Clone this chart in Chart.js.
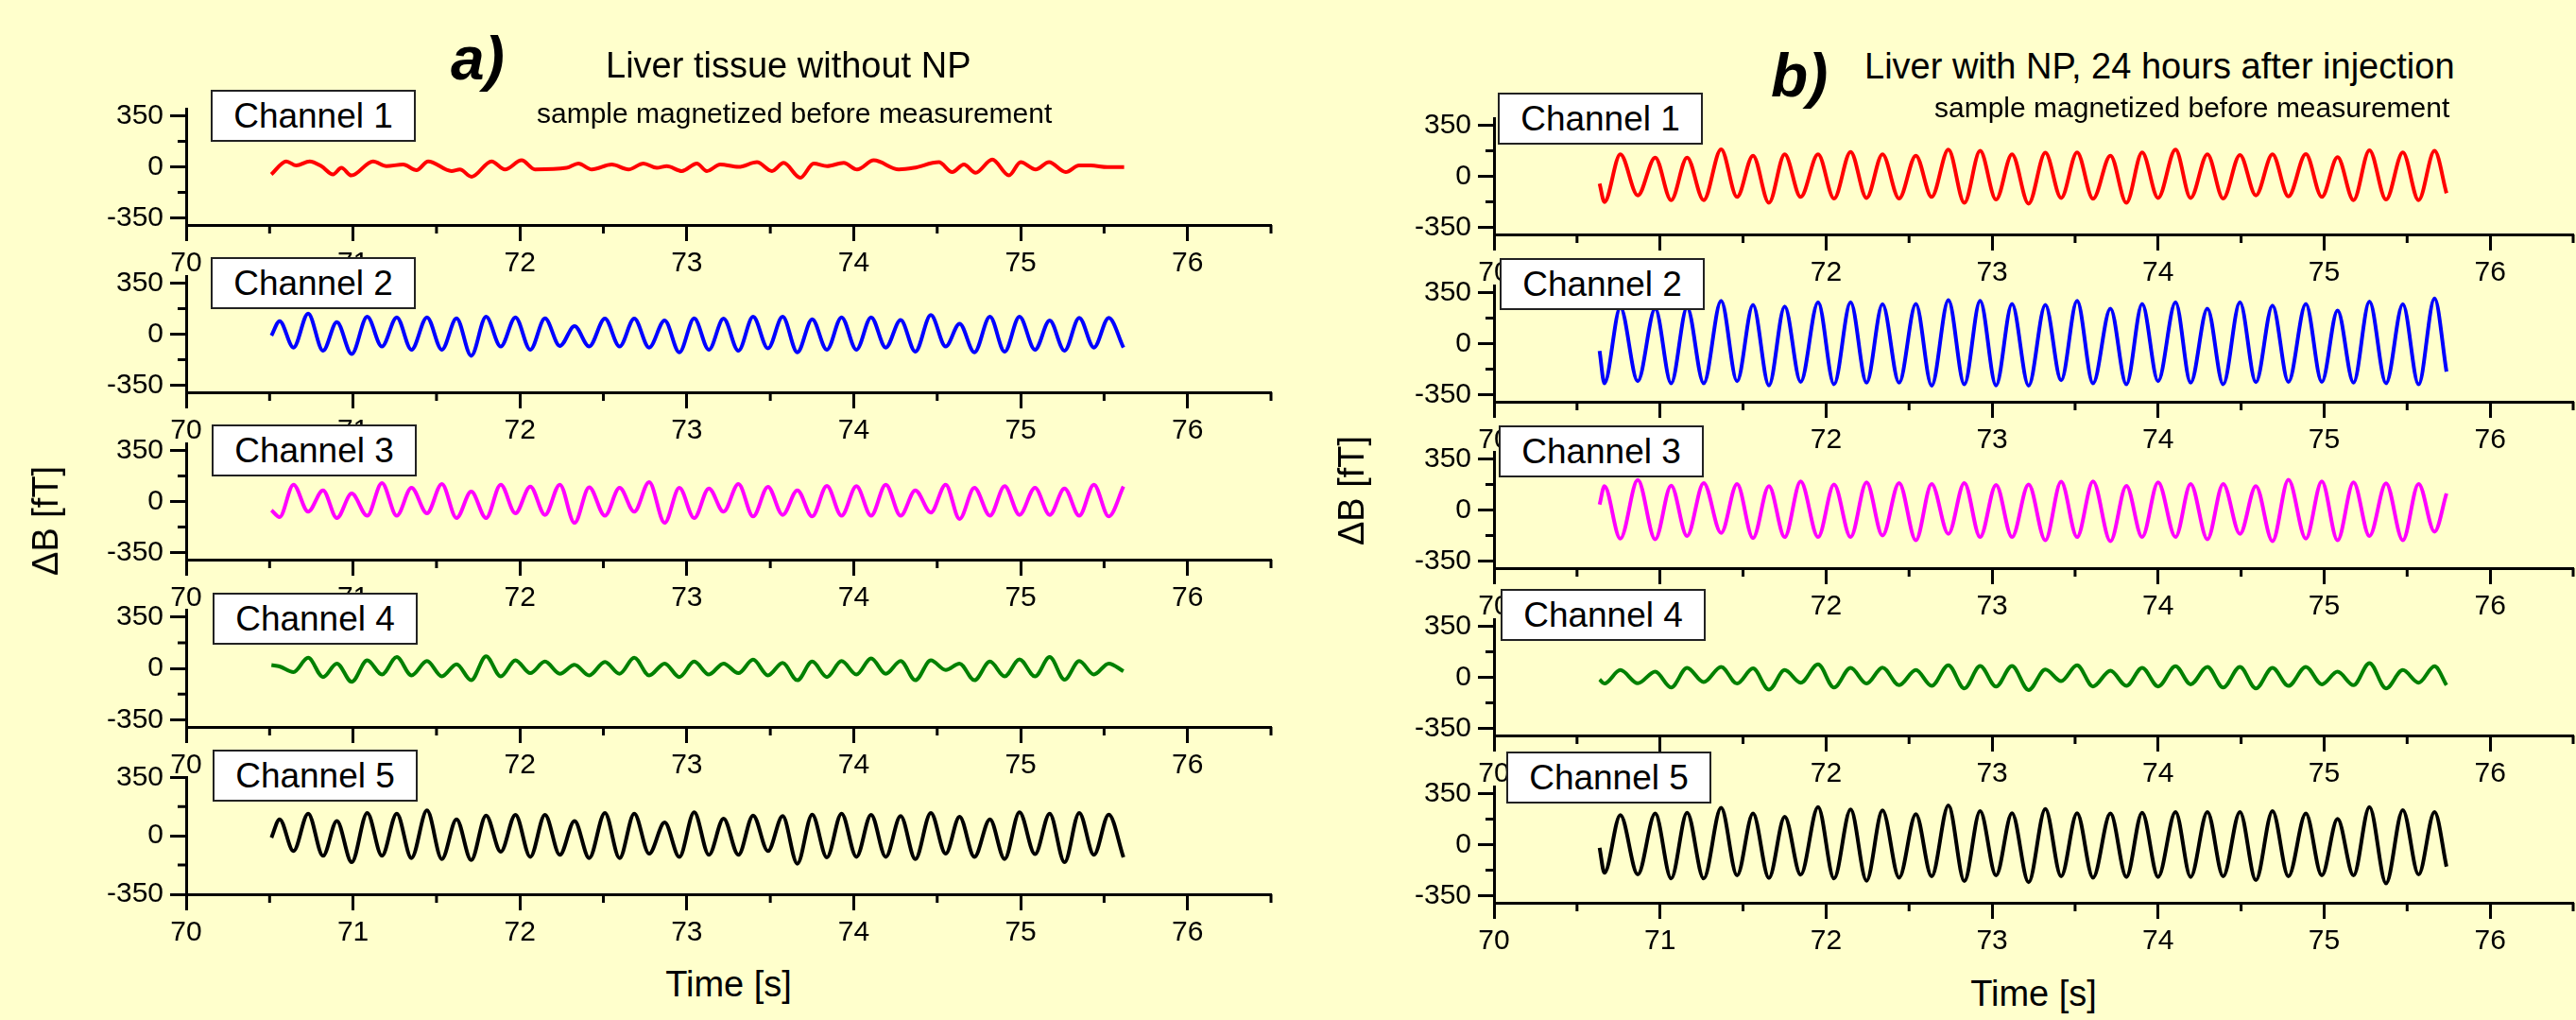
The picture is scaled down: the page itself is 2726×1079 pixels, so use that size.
<!DOCTYPE html>
<html>
<head>
<meta charset="utf-8">
<script src="https://cdn.jsdelivr.net/npm/chart.js@4.4.0/dist/chart.umd.min.js"></script>
<style>
html, body { margin: 0; padding: 0; background: #ffffcc; overflow: hidden; }
#wrap { position: relative; width: 2726px; height: 1079px; background: #ffffcc;
        font-family: "Liberation Sans", Arial, sans-serif; color: #000; }
canvas { position: absolute; }
.txt { position: absolute; white-space: nowrap; line-height: 1; }
.box { position: absolute; box-sizing: border-box; width: 217px; height: 55px; background: #fff;
       border: 2px solid #222; font-size: 37px; line-height: 1; z-index: 5;
       display: flex; align-items: center; justify-content: center; }
.ytitle { position: absolute; white-space: nowrap; line-height: 1; font-size: 38px;
          transform: translate(-50%, -50%) rotate(-90deg); }
</style>
</head>
<body>
<div id="wrap"></div>
<script>
// ---- data ----

const xTicks = [70, 71, 72, 73, 74, 75, 76];
const xMinor = [70.5, 71.5, 72.5, 73.5, 74.5, 75.5, 76.5];
const yTicks = [-350, 0, 350];
const yMinor = [-175, 175];
const channelNames = ['Channel 1', 'Channel 2', 'Channel 3', 'Channel 4', 'Channel 5'];

// panel a: times of the turning points (start, peak, trough, ... end)
const timesA = [70.511, 70.560, 70.643, 70.731, 70.820, 70.903, 70.992, 71.085, 71.173, 71.262,
  71.350, 71.443, 71.532, 71.620, 71.708, 71.797, 71.885, 71.973, 72.062, 72.150,
  72.239, 72.327, 72.415, 72.509, 72.597, 72.685, 72.774, 72.867, 72.955, 73.044,
  73.132, 73.220, 73.309, 73.397, 73.486, 73.574, 73.662, 73.751, 73.839, 73.927,
  74.016, 74.104, 74.192, 74.281, 74.369, 74.462, 74.551, 74.634, 74.723, 74.816,
  74.904, 74.993, 75.086, 75.174, 75.263, 75.351, 75.439, 75.528, 75.616];

// channel 1 of panel a is noise, it has its own turning points
const ch1TimesA = [70.51, 70.60, 70.66, 70.74, 70.81, 70.88, 70.93, 70.99, 71.12, 71.20,
  71.30, 71.38, 71.45, 71.59, 71.64, 71.71, 71.83, 71.91, 72.01, 72.09,
  72.28, 72.35, 72.43, 72.55, 72.65, 72.74, 72.82, 72.88, 72.97, 73.06,
  73.12, 73.20, 73.31, 73.42, 73.51, 73.58, 73.68, 73.76, 73.84, 73.94,
  74.02, 74.12, 74.27, 74.36, 74.51, 74.59, 74.66, 74.73, 74.83, 74.93,
  75.00, 75.09, 75.17, 75.27, 75.35, 75.42, 75.52, 75.62];
const ch1A = [-52, 38, 9, 38, 5, -52, -7, -59, 38, 5,
  16, -23, 38, -29, -18, -68, 38, -18, 45, -18,
  -7, 23, -18, 16, -18, 23, -7, 5, -29, 23,
  -29, 16, 0, 32, -29, 27, -75, 23, 5, 27,
  -18, 45, -18, -7, 32, -36, 16, -41, 50, -59,
  32, -18, 32, -36, 9, 9, -2, -2];

const ch2A = [-10, 90, -92, 142, -114, 83, -136, 120, -85, 116, -107, 116, -107, 109, -149,
  120, -85, 116, -107, 109, -81, 55, -85, 107, -85, 107, -92, 94, -125, 109, -107,
  107, -114, 120, -98, 120, -125, 103, -107, 116, -107, 116, -92, 98, -120, 131, -85,
  72, -125, 120, -120, 120, -107, 94, -114, 112, -92, 112, -92];
const ch3A = [-60, -107, 116, -70, 77, -114, 55, -98, 127, -98, 94, -81, 120, -114, 68,
  -114, 116, -81, 103, -92, 116, -147, 98, -98, 94, -70, 133, -147, 94, -114, 90,
  -70, 120, -103, 101, -92, 77, -103, 107, -98, 105, -98, 116, -98, 77, -76, 116,
  -120, 94, -98, 105, -92, 94, -92, 90, -98, 116, -103, 103];
const ch4A = [22, 13, -26, 72, -59, 33, -92, 55, -42, 77, -48, 50, -55, 28, -81,
  83, -55, 55, -33, 46, -37, 24, -48, 44, -37, 72, -48, 33, -59, 46, -42,
  33, -33, 59, -48, 37, -81, 46, -59, 50, -42, 68, -37, 50, -81, 55, -11,
  33, -81, 46, -55, 61, -55, 77, -77, 50, -42, 33, -20];
const ch5A = [-11, 99, -91, 133, -120, 89, -158, 137, -120, 133, -133, 152, -139, 99, -145,
  122, -95, 126, -126, 126, -114, 89, -133, 137, -133, 133, -107, 80, -126, 141, -114,
  103, -114, 122, -91, 118, -167, 127, -129, 133, -126, 126, -126, 118, -139, 137, -107,
  114, -126, 99, -139, 141, -110, 133, -158, 137, -114, 127, -129];

// panel b: times of the turning points (start, trough, peak, ... end)
const timesB = [70.636, 70.665, 70.761, 70.866, 70.971, 71.067, 71.163, 71.263, 71.368, 71.464,
  71.560, 71.656, 71.751, 71.847, 71.952, 72.048, 72.148, 72.244, 72.340, 72.440,
  72.541, 72.636, 72.737, 72.833, 72.928, 73.024, 73.120, 73.220, 73.321, 73.416,
  73.512, 73.608, 73.713, 73.809, 73.904, 74.000, 74.105, 74.196, 74.297, 74.392,
  74.493, 74.589, 74.689, 74.785, 74.890, 74.986, 75.081, 75.177, 75.273, 75.373,
  75.474, 75.569, 75.665, 75.737];

const ch1B = [-50, -177, 151, -131, 129, -164, 129, -164, 186, -142, 142, -182, 151, -142, 151,
  -153, 168, -149, 151, -153, 142, -142, 184, -182, 175, -160, 151, -188, 162, -149, 164,
  -155, 142, -182, 164, -149, 184, -149, 151, -153, 147, -131, 151, -138, 153, -142, 131,
  -164, 179, -160, 164, -164, 175, -116];
const ch2B = [-50, -273, 249, -258, 241, -273, 249, -273, 295, -258, 267, -287, 256, -263, 284,
  -280, 284, -269, 271, -269, 273, -289, 300, -280, 295, -287, 273, -289, 267, -252, 295,
  -273, 241, -280, 273, -258, 284, -269, 241, -280, 284, -265, 262, -263, 273, -263, 228,
  -269, 289, -273, 271, -280, 311, -193];
const ch3B = [37, 164, -197, 206, -201, 168, -179, 186, -158, 179, -193, 164, -186, 197, -186,
  175, -186, 190, -175, 186, -208, 179, -164, 186, -186, 173, -186, 175, -208, 195, -186,
  197, -214, 166, -186, 190, -186, 179, -201, 179, -164, 164, -214, 208, -197, 197, -208,
  190, -179, 184, -208, 179, -149, 114];
const ch4B = [-15, -43, 50, -41, 39, -70, 65, -33, 72, -43, 61, -85, 50, -37, 89,
  -70, 65, -43, 67, -54, 50, -59, 83, -76, 78, -63, 78, -87, 54, -26, 83,
  -63, 46, -59, 65, -63, 76, -48, 72, -70, 72, -76, 65, -59, 72, -48, 39,
  -54, 98, -76, 50, -37, 76, -54];
const ch5B = [-22, -194, 203, -205, 214, -233, 220, -233, 253, -212, 214, -229, 192, -207, 259,
  -233, 242, -248, 235, -227, 210, -218, 270, -251, 231, -212, 216, -259, 246, -218, 216,
  -227, 214, -222, 220, -222, 225, -222, 225, -218, 225, -244, 231, -218, 214, -212, 177,
  -212, 259, -266, 238, -205, 225, -151];

// ---- layout ----
const FONT = '"Liberation Sans", Arial, sans-serif';
const YW = 130;   // room for the y tick labels
const XH = 70;    // room for the x tick labels
const PT = 30;
const PR = 5;

const panelA = { left: 196.5, right: 1345, bottom0: 238.3, pitch: 176.8, height: 123.3 };
const panelB = { left: 1581, right: 2723, bottom0: 247.7, pitch: 176.8, height: 123 };

const wrap = document.getElementById('wrap');

// short ticks at the half steps
const minorTicks = {
    id: 'minorTicks',
    afterDraw(chart) {
        const { ctx, chartArea, scales } = chart;
        ctx.save();
        ctx.strokeStyle = '#000';
        ctx.lineWidth = 3;
        ctx.beginPath();
        xMinor.forEach(v => {
            const x = scales.x.getPixelForValue(v);
            ctx.moveTo(x, chartArea.bottom);
            ctx.lineTo(x, chartArea.bottom + 9);
        });
        yMinor.forEach(v => {
            const y = scales.y.getPixelForValue(v);
            ctx.moveTo(chartArea.left, y);
            ctx.lineTo(chartArea.left - 9, y);
        });
        ctx.stroke();
        ctx.restore();
    }
};

function axisStyle() {
    return {
        grid: { drawOnChartArea: false, drawTicks: true, tickLength: 17, tickWidth: 3, tickColor: '#000' },
        border: { display: true, width: 3, color: '#000' }
    };
}

function subplot(panel, i, times, values, color, yMin, yMax) {
    const bottom = panel.bottom0 + panel.pitch * i;
    const top = bottom - panel.height;
    const cl = Math.round(panel.left - YW);
    const ct = Math.round(top - PT);
    const cw = Math.round(panel.right + PR) - cl;
    const ch = Math.round(bottom + XH) - ct;

    const cv = document.createElement('canvas');
    cv.width = cw;
    cv.height = ch;
    cv.style.left = cl + 'px';
    cv.style.top = ct + 'px';
    cv.style.width = cw + 'px';
    cv.style.height = ch + 'px';
    wrap.appendChild(cv);

    return new Chart(cv, {
        type: 'line',
        data: {
            datasets: [{
                data: times.map((t, k) => ({ x: t, y: values[k] })),
                borderColor: color,
                borderWidth: 4,
                pointRadius: 0,
                fill: false,
                cubicInterpolationMode: 'monotone'
            }]
        },
        options: {
            responsive: false,
            animation: false,
            devicePixelRatio: 1,
            layout: { padding: { top: PT, right: PR, left: 0, bottom: 0 } },
            plugins: { legend: { display: false }, tooltip: { enabled: false } },
            scales: {
                x: {
                    type: 'linear', min: 70, max: 76.5,
                    afterFit: s => { s.height = XH; },
                    afterBuildTicks: s => { s.ticks = xTicks.map(v => ({ value: v })); },
                    ...axisStyle(),
                    ticks: { padding: 6, color: '#000', autoSkip: false, maxRotation: 0,
                             font: { family: FONT, size: 30 } }
                },
                y: {
                    type: 'linear', min: yMin, max: yMax,
                    afterFit: s => { s.width = YW; },
                    afterBuildTicks: s => { s.ticks = yTicks.map(v => ({ value: v })); },
                    ...axisStyle(),
                    ticks: { padding: 7, color: '#000', font: { family: FONT, size: 30 } }
                }
            }
        },
        plugins: [minorTicks]
    });
}

const colors = ['#ff0000', '#0000ff', '#ff00ff', '#008000', '#000000'];

subplot(panelA, 0, ch1TimesA, ch1A, colors[0], -400, 400);
subplot(panelA, 1, timesA, ch2A, colors[1], -400, 400);
subplot(panelA, 2, timesA, ch3A, colors[2], -400, 400);
subplot(panelA, 3, timesA, ch4A, colors[3], -400, 400);
subplot(panelA, 4, timesA, ch5A, colors[4], -350, 352);

subplot(panelB, 0, timesB, ch1B, colors[0], -400, 400);
subplot(panelB, 1, timesB, ch2B, colors[1], -400, 400);
subplot(panelB, 2, timesB, ch3B, colors[2], -400, 400);
subplot(panelB, 3, timesB, ch4B, colors[3], -400, 400);
subplot(panelB, 4, timesB, ch5B, colors[4], -400, 400);

// ---- texts ----
function addText(cls, txt, left, top, css) {
    const d = document.createElement('div');
    d.className = cls;
    d.textContent = txt;
    d.style.left = left + 'px';
    d.style.top = top + 'px';
    Object.assign(d.style, css || {});
    wrap.appendChild(d);
    return d;
}

// channel label boxes
const boxesA = [[223, 95], [223, 272], [224, 449], [225, 627], [225, 793]];
const boxesB = [[1585, 98], [1587, 273], [1586, 450], [1588, 623], [1594, 795]];
boxesA.forEach((p, i) => addText('box', channelNames[i], p[0], p[1]));
boxesB.forEach((p, i) => addText('box', channelNames[i], p[0], p[1]));

addText('txt', 'a)', 477, 30, { fontSize: '64px', fontWeight: 'bold', fontStyle: 'italic' });
addText('txt', 'Liver tissue without NP', 641, 50, { fontSize: '38px' });
addText('txt', 'sample magnetized before measurement', 568, 105, { fontSize: '30px' });

addText('txt', 'b)', 1874, 48, { fontSize: '64px', fontWeight: 'bold', fontStyle: 'italic' });
addText('txt', 'Liver with NP, 24 hours after injection', 1973, 51, { fontSize: '38px' });
addText('txt', 'sample magnetized before measurement', 2047, 99, { fontSize: '30px' });

addText('txt', 'Time [s]', 771, 1022, { fontSize: '38px', transform: 'translateX(-50%)' });
addText('txt', 'Time [s]', 2152, 1032, { fontSize: '38px', transform: 'translateX(-50%)' });

addText('ytitle', '\u0394B [fT]', 48, 551);
addText('ytitle', '\u0394B [fT]', 1430, 519);
</script>
</body>
</html>
